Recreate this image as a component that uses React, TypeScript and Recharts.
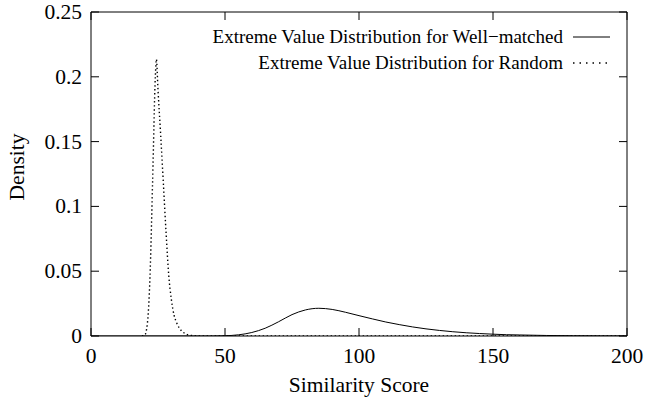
import { LineChart, Line, XAxis, YAxis, Legend } from 'recharts';

// x positions and densities
const randomX = [19, 20, 21, 22, 23, 24, 24.4, 25, 26, 27, 28, 29, 30, 31, 32, 33, 34, 35, 36, 38, 40, 60, 200];
const randomY = [0, 0.0005, 0.009, 0.045, 0.12, 0.2, 0.2135, 0.19, 0.155, 0.118, 0.08, 0.047, 0.028, 0.016, 0.01, 0.006, 0.0035, 0.002, 0.001, 0.0003, 0, 0, 0];

const matchedX = [0, 45, 50, 55, 60, 65, 70, 75, 80, 85, 90, 95, 100, 105, 110, 115, 120, 125, 130, 135, 140, 145, 150, 155, 160, 170, 180, 190, 200];
const matchedY = [0, 0, 0.0002, 0.0009, 0.0027, 0.006, 0.011, 0.0165, 0.0201, 0.0214, 0.0205, 0.0183, 0.0157, 0.0132, 0.0108, 0.0088, 0.007, 0.0055, 0.0043, 0.0033, 0.0025, 0.0019, 0.0014, 0.001, 0.0008, 0.0004, 0.0002, 0.0001, 0.00005];

const xTicks = [0, 50, 100, 150, 200];
const yTicks = [0, 0.05, 0.1, 0.15, 0.2, 0.25];

const seriesNames = ['Extreme Value Distribution for Well\u2212matched', 'Extreme Value Distribution for Random'];

const FONT = '"Liberation Serif", "Times New Roman", serif';
const TICK = 8; // inward tick length
const axisText = { fontFamily: FONT, fontSize: 21.5, fill: '#000' };

const randomData = randomX.map((x, i) => ({ x, y: randomY[i] }));
const matchedData = matchedX.map((x, i) => ({ x, y: matchedY[i] }));

// gnuplot style: ticks point into the plot
const BottomTick = ({ x, y, payload }: any) => (
  <g>
    <line x1={x} y1={y} x2={x} y2={y - TICK} stroke="#000" />
    <text x={x} y={y + 27} textAnchor="middle" style={axisText}>{payload.value}</text>
  </g>
);
const LeftTick = ({ x, y, payload }: any) => (
  <g>
    <line x1={x} y1={y} x2={x + TICK} y2={y} stroke="#000" />
    <text x={x - 9} y={y + 7} textAnchor="end" style={axisText}>{payload.value}</text>
  </g>
);
const TopTick = ({ x, y }: any) => <line x1={x} y1={y} x2={x} y2={y + TICK} stroke="#000" />;
const RightTick = ({ x, y }: any) => <line x1={x} y1={y} x2={x - TICK} y2={y} stroke="#000" />;

function LegendBox() {
  return (
    <div style={{ fontFamily: FONT, fontSize: 19, color: '#000', width: 610 }}>
      {seriesNames.map((name, i) => (
        <div key={name} style={{ display: 'flex', justifyContent: 'flex-end', alignItems: 'center', height: 26 }}>
          <span>{name}</span>
          <svg width={47} height={10}>
            <line x1={10} y1={5} x2={47} y2={5} stroke="#000" strokeWidth={i === 1 ? 1.3 : 1} strokeDasharray={i === 1 ? '1.5 5' : undefined} />
          </svg>
        </div>
      ))}
    </div>
  );
}

export default function App() {
  return (
    <div style={{ position: 'absolute', left: 0, top: 0, width: 656, height: 397, background: '#fff' }}>
      <LineChart width={656} height={397} margin={{ top: 11, right: 28, bottom: 0, left: 0 }}>
        <XAxis
          xAxisId="bottom"
          type="number"
          dataKey="x"
          domain={[0, 200]}
          ticks={xTicks}
          height={61}
          tickSize={0}
          tickMargin={0}
          tickLine={false}
          stroke="#000"
          tick={BottomTick}
          allowDataOverflow
          label={{
            content: (props: any) => {
              const vb = props.viewBox;
              return (
                <text x={vb.x + vb.width / 2} y={vb.y + 56} textAnchor="middle" style={axisText}>
                  Similarity Score
                </text>
              );
            },
          }}
        />
        <XAxis
          xAxisId="top"
          orientation="top"
          type="number"
          dataKey="x"
          domain={[0, 200]}
          ticks={xTicks}
          height={1}
          tickSize={0}
          tickMargin={0}
          tickLine={false}
          tick={TopTick}
          stroke="#000"
          allowDataOverflow
        />
        <YAxis
          yAxisId="left"
          type="number"
          domain={[0, 0.25]}
          ticks={yTicks}
          width={91}
          tickSize={0}
          tickMargin={0}
          tickLine={false}
          stroke="#000"
          tick={LeftTick}
          allowDataOverflow
          label={{
            content: (props: any) => {
              const vb = props.viewBox;
              const cx = 17;
              const cy = vb.y + vb.height / 2 - 7;
              return (
                <text x={cx} y={cy} textAnchor="middle" dominantBaseline="central" transform={`rotate(-90 ${cx} ${cy})`} style={axisText}>
                  Density
                </text>
              );
            },
          }}
        />
        <YAxis
          yAxisId="right"
          orientation="right"
          type="number"
          domain={[0, 0.25]}
          ticks={yTicks}
          width={1}
          tickSize={0}
          tickMargin={0}
          tickLine={false}
          tick={RightTick}
          stroke="#000"
          allowDataOverflow
        />
        <Legend
          layout="vertical"
          align="center"
          verticalAlign="middle"
          wrapperStyle={{ top: 24, left: 0, width: 610 }}
          content={() => <LegendBox />}
        />
        <Line
          xAxisId="bottom"
          yAxisId="left"
          data={matchedData}
          dataKey="y"
          type="monotone"
          stroke="#000"
          strokeWidth={1}
          dot={false}
          isAnimationActive={false}
          name={seriesNames[0]}
        />
        <Line
          xAxisId="top"
          yAxisId="right"
          data={randomData}
          dataKey="y"
          type="monotone"
          stroke="#000"
          strokeWidth={1.4}
          strokeDasharray="1.4 2.6"
          dot={false}
          isAnimationActive={false}
          name={seriesNames[1]}
        />
      </LineChart>
    </div>
  );
}
